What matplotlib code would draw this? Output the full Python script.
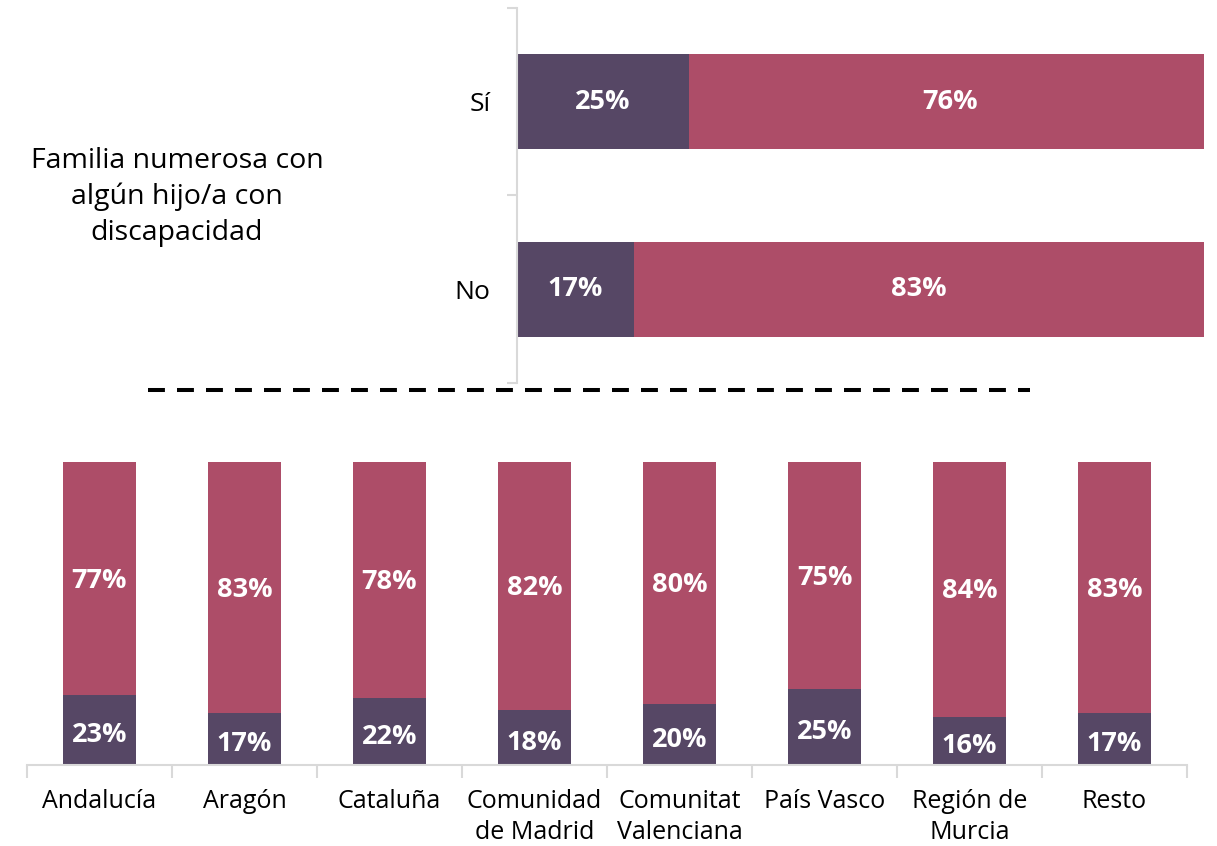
import matplotlib.pyplot as plt
from matplotlib.lines import Line2D

# top chart: large family with a disabled child
top_cats = ['No', 'Sí']
top_dark = [17, 25]
top_rose = [83, 76]

# bottom chart: by region
regions = ['Andalucía', 'Aragón', 'Cataluña', 'Comunidad\nde Madrid',
           'Comunitat\nValenciana', 'País Vasco', 'Región de\nMurcia', 'Resto']
reg_dark = [23, 17, 22, 18, 20, 25, 16, 17]
reg_rose = [77, 83, 78, 82, 80, 75, 84, 83]

DARK = '#564765'
ROSE = '#AD4D68'
GRID = '#D9D9D9'
TEXT_FONT = ['Open Sans', 'DejaVu Sans']
NUM_FONT = ['Open Sans', 'DejaVu Sans']

plt.rcParams['font.family'] = TEXT_FONT

fig = plt.figure(figsize=(12.17, 8.46), dpi=100)

# --- top horizontal stacked bars
ax1 = fig.add_axes([517 / 1217, 1 - 383 / 846, (1204 - 517) / 1217, 375 / 846])
ypos = list(range(len(top_cats)))
ax1.barh(ypos, top_dark, height=0.507, color=DARK)
ax1.barh(ypos, top_rose, left=top_dark, height=0.507, color=ROSE)
for y, d, r in zip(ypos, top_dark, top_rose):
    ax1.text(d / 2, y, f'{d}%', ha='center', va='center', color='white',
             fontsize=19.5, fontweight='bold', family=NUM_FONT)
    ax1.text(d + r / 2, y, f'{r}%', ha='center', va='center', color='white',
             fontsize=19.5, fontweight='bold', family=NUM_FONT)
ax1.set_xlim(0, 100)
ax1.set_ylim(-0.5, 1.5)
for s in ['top', 'right', 'bottom']:
    ax1.spines[s].set_visible(False)
ax1.spines['left'].set_color(GRID)
ax1.spines['left'].set_linewidth(1.5)
ax1.set_xticks([])
ax1.set_yticks([-0.5, 0.5, 1.5])
ax1.set_yticklabels([])
ax1.tick_params(axis='y', which='major', length=7, color=GRID, width=1.5)
ax1.set_yticks(ypos, minor=True)
ax1.set_yticklabels(top_cats, minor=True, fontsize=19)
ax1.tick_params(axis='y', which='minor', length=0, pad=19)

fig.text(177 / 1217, 1 - 197 / 846, 'Familia numerosa con\nalgún hijo/a con\ndiscapacidad',
         ha='center', va='center', fontsize=20.5, linespacing=1.36)

# dashed separator
fig.add_artist(Line2D([148 / 1217, 1030 / 1217], [1 - 390 / 846, 1 - 390 / 846],
                      transform=fig.transFigure, color='black', lw=2.9,
                      dashes=(4.2, 3.0)))

# --- bottom vertical stacked bars
ax2 = fig.add_axes([27 / 1217, 1 - 765 / 846, 1160 / 1217, 303 / 846])
xpos = list(range(len(regions)))
ax2.bar(xpos, reg_dark, width=0.5, color=DARK)
ax2.bar(xpos, reg_rose, bottom=reg_dark, width=0.5, color=ROSE)
for x, d, r in zip(xpos, reg_dark, reg_rose):
    ax2.text(x, d / 2 - 1.7, f'{d}%', ha='center', va='center', color='white',
             fontsize=19.5, fontweight='bold', family=NUM_FONT)
    ax2.text(x, d + r / 2 - 0.7, f'{r}%', ha='center', va='center', color='white',
             fontsize=19.5, fontweight='bold', family=NUM_FONT)
ax2.set_xlim(-0.5, len(regions) - 0.5)
ax2.set_ylim(0, 100)
for s in ['top', 'right', 'left']:
    ax2.spines[s].set_visible(False)
ax2.spines['bottom'].set_color(GRID)
ax2.spines['bottom'].set_linewidth(1.5)
ax2.set_yticks([])
ax2.set_xticks([i - 0.5 for i in range(len(regions) + 1)])
ax2.set_xticklabels([])
ax2.tick_params(axis='x', which='major', length=9, color=GRID, width=1.5)
ax2.set_xticks(xpos, minor=True)
ax2.set_xticklabels(regions, minor=True, fontsize=18, linespacing=1.35)
ax2.tick_params(axis='x', which='minor', length=0, pad=17)

fig.savefig('out.png', dpi=100)
